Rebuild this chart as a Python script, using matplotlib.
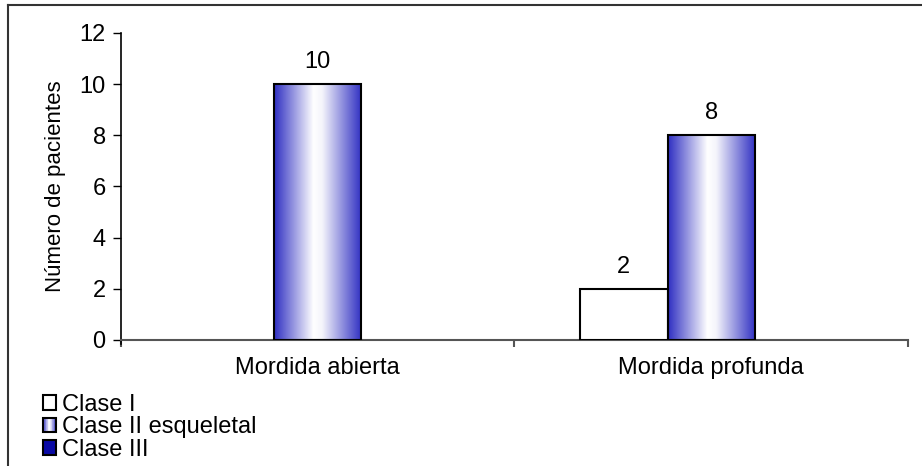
import matplotlib
matplotlib.use("Agg")
import matplotlib.pyplot as plt
import numpy as np
from matplotlib.colors import LinearSegmentedColormap
from matplotlib.patches import Patch, Rectangle
from matplotlib.lines import Line2D
from matplotlib.legend_handler import HandlerBase

plt.rcParams['font.family'] = ['Liberation Sans', 'DejaVu Sans']

# datos
categorias = ['Mordida abierta', 'Mordida profunda']
series = ['Clase I', 'Clase II esqueletal', 'Clase III']
clase_i = [0, 2]
clase_ii = [10, 8]
clase_iii = [0, 0]
y_ticks = [0, 2, 4, 6, 8, 10, 12]

FS = 17

# degradado azul-blanco-azul de la serie II
degradado = LinearSegmentedColormap.from_list(
    'azul_blanco', [(0.0, '#2f2fc2'), (0.45, '#ffffff'), (0.55, '#f4f4fb'), (1.0, '#2f2fc2')])
azul_oscuro = '#0a0aa5'


class HandlerDegradado(HandlerBase):
    def create_artists(self, legend, orig_handle, xdescent, ydescent,
                       width, height, fontsize, trans):
        arts = []
        n = 20
        for i in range(n):
            arts.append(Rectangle((-xdescent + i * width / n, -ydescent), width / n, height,
                                  facecolor=degradado((i + 0.5) / n), edgecolor='none',
                                  transform=trans))
        arts.append(Rectangle((-xdescent, -ydescent), width, height, facecolor='none',
                              edgecolor='black', lw=1.5, transform=trans))
        return arts


fig = plt.figure(figsize=(9.22, 4.66), dpi=100)
ax = fig.add_axes([0.1312, 0.2704, 0.8536, 0.6588])

x = np.arange(len(categorias))
w = 1 / 4.5
valores = [clase_i, clase_ii, clase_iii]
caras = ['white', 'none', azul_oscuro]

for k, (vals, cara) in enumerate(zip(valores, caras)):
    barras = ax.bar(x + (k - 1) * w, vals, w, facecolor=cara, edgecolor='black',
                    linewidth=1.5, zorder=3)
    for b, v in zip(barras, vals):
        if v == 0:
            b.set_visible(False)
            continue
        if k == 1:
            x0, y0 = b.get_x(), b.get_y()
            ax.imshow(np.linspace(0, 1, 256).reshape(1, -1), cmap=degradado, aspect='auto',
                      extent=(x0, x0 + b.get_width(), y0, y0 + b.get_height()),
                      zorder=2, interpolation='bilinear')
        ax.annotate(str(v), (b.get_x() + b.get_width() / 2, v), xytext=(0, 8),
                    textcoords='offset points', ha='center', va='bottom', fontsize=FS)

ax.set_xlim(-0.5, 1.5)
ax.set_ylim(0, 12)
ax.set_yticks(y_ticks)
ax.set_xticks(x)
ax.set_xticklabels(categorias, fontsize=FS)
ax.set_xticks([-0.5, 0.5, 1.5], minor=True)
ax.tick_params(axis='x', which='major', length=0, pad=12)
ax.tick_params(axis='x', which='minor', length=5, width=1.5, color='#555555')
ax.tick_params(axis='y', length=6, width=1, color='black', labelsize=FS, pad=5)
ax.set_ylabel('Número de pacientes', fontsize=16, labelpad=10)

for s in ['top', 'right']:
    ax.spines[s].set_visible(False)
ax.spines['left'].set_linewidth(1.2)
ax.spines['left'].set_bounds(-0.15, 12)
ax.spines['bottom'].set_color('#555555')
ax.spines['bottom'].set_linewidth(1.5)

# leyenda
handles = [Patch(facecolor='white', edgecolor='black', lw=1.5),
           Patch(facecolor='none'),
           Patch(facecolor=azul_oscuro, edgecolor='black', lw=1.5)]
fig.legend(handles, series, loc='upper left', bbox_to_anchor=(43 / 922, 1 - 394 / 466),
           frameon=False, fontsize=FS, borderpad=0, borderaxespad=0,
           handlelength=0.56, handleheight=0.56, handletextpad=0.25, labelspacing=0.02,
           handler_map={handles[1]: HandlerDegradado()})

# marco del gráfico
fig.add_artist(Line2D([7.5 / 922, 1], [1 - 5 / 466] * 2, transform=fig.transFigure,
                      color='#333333', lw=1.5))
fig.add_artist(Line2D([7.5 / 922] * 2, [0, 1 - 5 / 466], transform=fig.transFigure,
                      color='#333333', lw=1.5))

fig.savefig('out.png', dpi=100)
